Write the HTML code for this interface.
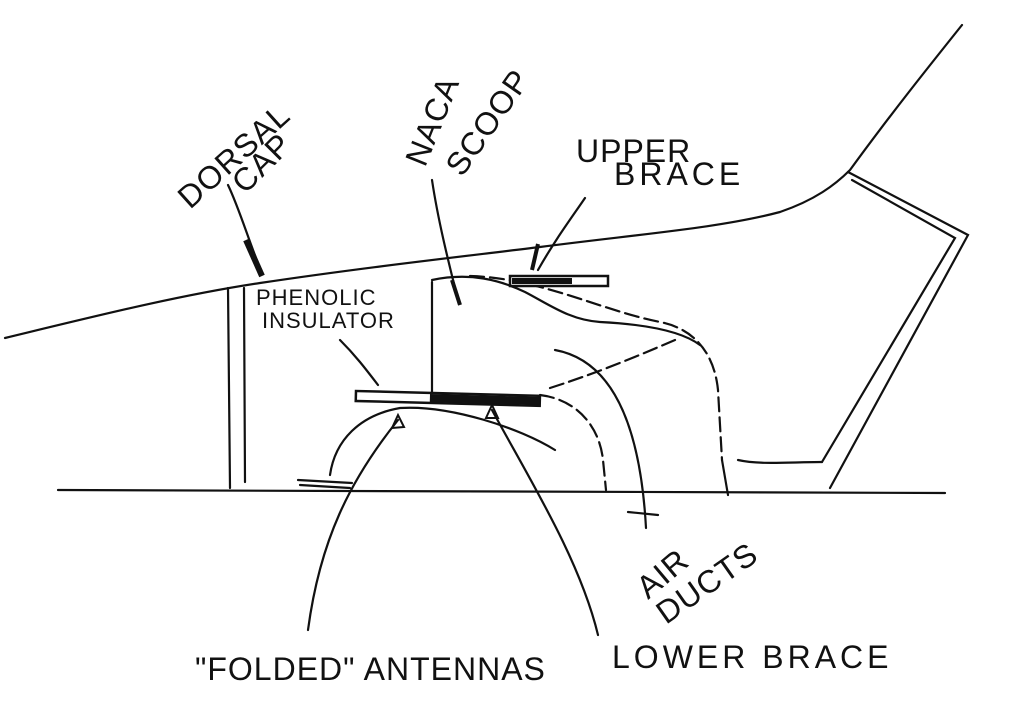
<!DOCTYPE html>
<html><head><meta charset="utf-8"><style>
html,body{margin:0;padding:0;background:#fff;}
svg{display:block;}
text{font-family:"Liberation Sans",sans-serif;fill:#111;}
</style></head><body>
<svg width="1024" height="715" viewBox="0 0 1024 715" xmlns="http://www.w3.org/2000/svg">
<g fill="none" stroke="#111" stroke-width="2.2" stroke-linecap="round">
<path d="M5,338 C100,315 180,295 260,283 C360,268 450,258 540,247 C640,234 720,228 780,212 C815,200 835,185 850,170 C890,115 930,65 962,25"/>
<path d="M848,172 L968,235 L830,488"/>
<path d="M852,180 L955,238 L822,462"/>
<path d="M738,460 C760,465 790,462 822,462"/>
<path d="M58,490 C300,492 600,490 945,493"/>
<path d="M228,288 L230,488"/><path d="M244,288 L245,482"/>
<path d="M432,282 L432,395"/>
<path d="M432,280 C470,272 500,280 525,292 C550,305 570,320 600,322 C640,324 680,330 700,345"/>
<path d="M470,276 C540,278 600,310 660,322 C700,330 715,360 718,390 L722,460" stroke-dasharray="14,6"/>
<path d="M722,460 L728,495"/>
<path d="M540,395 C580,400 600,430 603,460 L606,490" stroke-dasharray="14,6"/>
<path d="M550,388 C600,372 640,355 675,340" stroke-dasharray="14,6"/>
<path d="M555,350 C610,360 640,420 646,528"/>
<path d="M628,512 L658,515"/>
<path d="M330,475 C335,440 360,415 400,408 C450,405 520,428 555,450"/>
<path d="M298,480 L352,483"/><path d="M300,485 L350,488"/>
<path d="M228,185 C240,210 250,245 262,273"/>
<path d="M432,180 C438,220 448,260 458,300"/>
<path d="M585,198 C570,220 555,240 538,270"/>
<path d="M340,340 C355,355 365,368 378,385"/>
<path d="M398,420 C350,480 320,540 308,630"/>
<path d="M492,410 C530,480 580,560 598,635"/>
</g>
<rect x="356" y="391" width="184" height="10" fill="#fff" stroke="#111" stroke-width="2.5" transform="rotate(1.5 356 391)"/>
<rect x="430" y="394" width="110" height="8" fill="#111" transform="rotate(1.5 430 394)"/>
<rect x="510" y="276" width="98" height="10" fill="#fff" stroke="#111" stroke-width="2.5"/>
<rect x="512" y="278" width="60" height="6" fill="#111"/>
<path d="M246,240 L262,276" stroke="#111" stroke-width="6"/>
<path d="M452,280 L460,305" stroke="#111" stroke-width="4"/>
<path d="M538,244 L532,270" stroke="#111" stroke-width="4"/>
<path d="M392,428 L398,415 L404,427Z M486,418 L492,405 L498,418Z" fill="none" stroke="#111" stroke-width="2"/>
<g font-size="32" letter-spacing="1">
<text transform="translate(190,210) rotate(-42)">DORSAL</text>
<text transform="translate(245,195) rotate(-45)">CAP</text>
<text transform="translate(425,168) rotate(-68)">NACA</text>
<text transform="translate(462,178) rotate(-55)">SCOOP</text>
<text x="576" y="162">UPPER</text>
<text x="614" y="185" letter-spacing="4">BRACE</text>
<text transform="translate(648,600) rotate(-40)">AIR</text>
<text transform="translate(666,625) rotate(-35)">DUCTS</text>
<text x="612" y="668" letter-spacing="4">LOWER BRACE</text>
<text x="195" y="680" letter-spacing="1">"FOLDED" ANTENNAS</text>
</g>
<g font-size="22" letter-spacing="1">
<text x="256" y="305">PHENOLIC</text>
<text x="262" y="328">INSULATOR</text>
</g>
</svg>
</body></html>
